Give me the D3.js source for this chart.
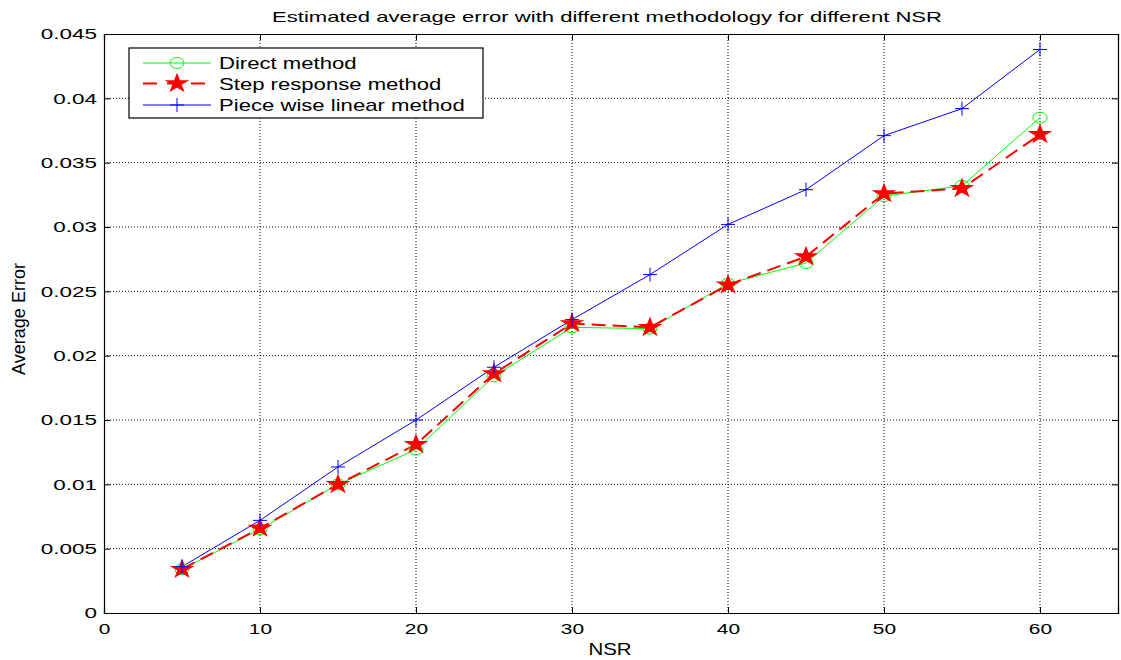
<!DOCTYPE html>
<html>
<head>
<meta charset="utf-8">
<script src="https://cdn.jsdelivr.net/npm/d3@7"></script>
<style>
  body { margin: 0; background: #fff; }
  text { font-family: "Liberation Sans", Arial, sans-serif; fill: #000; }
</style>
</head>
<body>
<div class="chart"></div>
<script>
// data
var nsr = [5, 10, 15, 20, 25, 30, 35, 40, 45, 50, 55, 60];
var directErr = [0.0034, 0.0065, 0.0100, 0.0127, 0.0184, 0.0222, 0.0221, 0.0256, 0.0272, 0.0324, 0.0332, 0.0385];
var stepErr   = [0.0034, 0.0066, 0.0100, 0.0131, 0.0186, 0.0225, 0.0222, 0.0255, 0.0277, 0.0326, 0.0330, 0.0372];
var pwlErr    = [0.0036, 0.0072, 0.01135, 0.0150, 0.0191, 0.0228, 0.0263, 0.0302, 0.0329, 0.0371, 0.0392, 0.0438];
var xTicks = [0, 10, 20, 30, 40, 50, 60];
var yTicks = [0, 0.005, 0.01, 0.015, 0.02, 0.025, 0.03, 0.035, 0.04, 0.045];
var seriesNames = ["Direct method", "Step response method", "Piece wise linear method"];

var svgWidth = 1121, svgHeight = 660;
var margin = { top: 34, right: 3, bottom: 47, left: 104 };
var width = svgWidth - margin.left - margin.right;
var height = svgHeight - margin.top - margin.bottom;

var svg = d3.select(".chart")
  .append("svg")
  .attr("width", svgWidth)
  .attr("height", svgHeight);

var chartGroup = svg.append("g")
  .attr("transform", `translate(${margin.left}, ${margin.top})`);

var xScale = d3.scaleLinear().domain([0, 65]).range([0, width]);
var yScale = d3.scaleLinear().domain([0, 0.045]).range([height, 0]);

// the original figure was stretched sideways, so text gets widened after drawing
function widen(sel, k) {
  sel.each(function() {
    var w = this.getComputedTextLength();
    d3.select(this).attr("textLength", w * k).attr("lengthAdjust", "spacingAndGlyphs");
  });
}

// grid
chartGroup.selectAll(".vgrid").data(xTicks.slice(1)).enter().append("line")
  .attr("x1", d => xScale(d)).attr("x2", d => xScale(d))
  .attr("y1", 0).attr("y2", height)
  .attr("stroke", "#000").attr("stroke-width", 1).attr("stroke-dasharray", "1,2");
chartGroup.selectAll(".hgrid").data(yTicks.slice(1, -1)).enter().append("line")
  .attr("y1", d => yScale(d)).attr("y2", d => yScale(d))
  .attr("x1", 0).attr("x2", width)
  .attr("stroke", "#000").attr("stroke-width", 1).attr("stroke-dasharray", "1,2");

// axes (ticks pointing inward, like matlab)
var bottomAxis = d3.axisBottom(xScale).tickValues(xTicks).tickSize(-6).tickPadding(10).tickFormat(d3.format("d"));
var leftAxis = d3.axisLeft(yScale).tickValues(yTicks).tickSize(-6).tickPadding(7).tickFormat(d => d === 0 ? "0" : String(+d.toFixed(3)));
var topAxis = d3.axisTop(xScale).tickValues(xTicks).tickSize(-6).tickFormat("");
var rightAxis = d3.axisRight(yScale).tickValues(yTicks).tickSize(-6).tickFormat("");

var xAxisG = chartGroup.append("g").attr("transform", `translate(0, ${height})`).call(bottomAxis);
var yAxisG = chartGroup.append("g").call(leftAxis);
chartGroup.append("g").call(topAxis);
chartGroup.append("g").attr("transform", `translate(${width}, 0)`).call(rightAxis);

chartGroup.selectAll(".domain").attr("stroke", "#000").attr("stroke-width", 1.2);
chartGroup.selectAll(".tick line").attr("stroke", "#000");
chartGroup.selectAll(".tick text").style("font-size", "15.5px").style("font-family", "Liberation Sans, Arial, sans-serif");
widen(xAxisG.selectAll(".tick text"), 1.35);
widen(yAxisG.selectAll(".tick text"), 1.45);

// lines
var line = d3.line().x((d, i) => xScale(nsr[i])).y(d => yScale(d));

chartGroup.append("path").datum(directErr)
  .attr("d", line).attr("fill", "none").attr("stroke", "#00ff00").attr("stroke-width", 1);
chartGroup.append("path").datum(stepErr)
  .attr("d", line).attr("fill", "none").attr("stroke", "#ff0000").attr("stroke-width", 2).attr("stroke-dasharray", "14,7");
chartGroup.append("path").datum(pwlErr)
  .attr("d", line).attr("fill", "none").attr("stroke", "#0000ff").attr("stroke-width", 1);

var starSym = d3.symbol().type(d3.symbolStar).size(80);

function drawCircle(g, x, y) {
  g.append("ellipse").attr("cx", x).attr("cy", y).attr("rx", 7).attr("ry", 5.5)
    .attr("fill", "none").attr("stroke", "#00ff00").attr("stroke-width", 1);
}
function drawStar(g, x, y) {
  g.append("path").attr("d", starSym).attr("transform", `translate(${x},${y}) scale(1.2,1)`)
    .attr("fill", "#ff0000").attr("stroke", "#ff0000").attr("stroke-width", 1.5);
}
function drawPlus(g, x, y) {
  g.append("path").attr("d", `M${x - 7},${y}H${x + 7}M${x},${y - 7}V${y + 7}`)
    .attr("stroke", "#0000ff").attr("stroke-width", 1);
}

directErr.forEach((v, i) => drawCircle(chartGroup, xScale(nsr[i]), yScale(v)));
stepErr.forEach((v, i) => drawStar(chartGroup, xScale(nsr[i]), yScale(v)));
pwlErr.forEach((v, i) => drawPlus(chartGroup, xScale(nsr[i]), yScale(v)));

// legend
var legend = svg.append("g").attr("transform", "translate(129, 48)");
legend.append("rect").attr("width", 354).attr("height", 70)
  .attr("fill", "#fff").attr("stroke", "#000").attr("stroke-width", 1.2);
var rowY = [15, 35.5, 57];
var colors = ["#00ff00", "#ff0000", "#0000ff"];
rowY.forEach(function(y, i) {
  var l = legend.append("line").attr("x1", 14).attr("x2", 82).attr("y1", y).attr("y2", y)
    .attr("stroke", colors[i]).attr("stroke-width", i === 1 ? 2 : 1);
  if (i === 1) l.attr("stroke-dasharray", "14,10");
  var t = legend.append("text").attr("x", 90).attr("y", y + 6)
    .style("font-size", "17px").text(seriesNames[i]);
  widen(t, 1.3);
});
drawCircle(legend, 48, rowY[0]);
drawStar(legend, 48, rowY[1]);
drawPlus(legend, 48, rowY[2]);

// titles
var title = svg.append("text").attr("x", 607).attr("y", 22)
  .attr("text-anchor", "middle").style("font-size", "15px")
  .text("Estimated average error with different methodology for different NSR");
title.attr("textLength", 670).attr("lengthAdjust", "spacingAndGlyphs");

var xLabel = svg.append("text").attr("x", 610).attr("y", 655)
  .attr("text-anchor", "middle").style("font-size", "17px").text("NSR");
widen(xLabel, 1.2);

svg.append("text")
  .attr("transform", `translate(25, 319) rotate(-90)`)
  .attr("text-anchor", "middle").style("font-size", "19px")
  .attr("textLength", 112).attr("lengthAdjust", "spacingAndGlyphs")
  .text("Average Error");
</script>
</body>
</html>
